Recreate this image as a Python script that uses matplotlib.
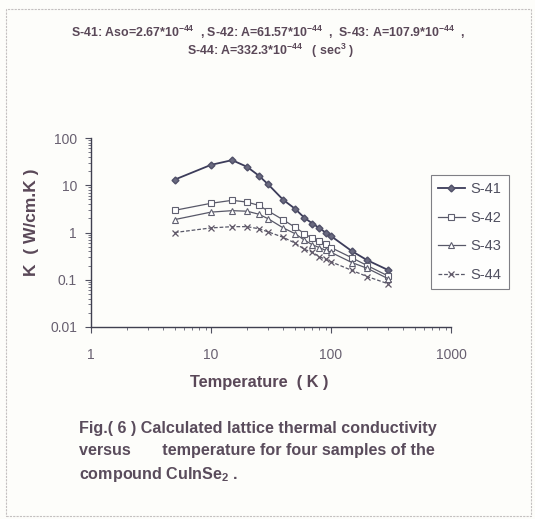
import matplotlib
matplotlib.use("Agg")
import matplotlib.pyplot as plt
from matplotlib.ticker import LogLocator, NullFormatter, FixedLocator, FixedFormatter
from matplotlib.patches import Rectangle

# ---- data ----
temperature = [5, 10, 15, 20, 25, 30, 40, 50, 60, 70, 80, 90, 100, 150, 200, 300]
s41 = [13.2, 27, 34, 24.5, 16, 10.4, 4.9, 3.2, 2.05, 1.55, 1.24, 1.0, 0.84, 0.40, 0.26, 0.16]
s42 = [2.95, 4.15, 4.8, 4.4, 3.75, 2.85, 1.85, 1.3, 0.95, 0.75, 0.67, 0.57, 0.48, 0.29, 0.20, 0.12]
s43 = [1.88, 2.7, 2.9, 2.82, 2.44, 1.95, 1.25, 0.95, 0.69, 0.55, 0.48, 0.42, 0.38, 0.23, 0.175, 0.105]
s44 = [1.0, 1.25, 1.33, 1.33, 1.2, 1.03, 0.79, 0.6, 0.44, 0.38, 0.31, 0.27, 0.24, 0.157, 0.117, 0.082]
series_names = ["S-41", "S-42", "S-43", "S-44"]
x_ticks = [1, 10, 100, 1000]
x_ticklabels = ["1", "10", "100", "1000"]
y_ticks = [0.01, 0.1, 1, 10, 100]
y_ticklabels = ["0.01", "0.1", "1", "10", "100"]

plt.rcParams['font.family'] = ['Liberation Sans', 'DejaVu Sans']
plt.rcParams['mathtext.default'] = 'regular'

W, H = 535, 519
fig = plt.figure(figsize=(W / 100, H / 100), dpi=100)
fig.patch.set_facecolor('#fdfdfa')

# outer faint frame
fig.add_artist(Rectangle((6 / W, 0.005), (W - 10) / W, 1 - 0.005 - 9 / H,
                         transform=fig.transFigure, fill=False,
                         edgecolor='#c4c0c0', lw=0.8, ls=(0, (2, 1))))

txtc = '#5a4858'
ax = fig.add_axes([91 / W, 1 - 327 / H, (451 - 91) / W, (327 - 138) / H])
ax.set_facecolor('none')
ax.set_xscale('log')
ax.set_yscale('log')
ax.set_xlim(1, 1000)
ax.set_ylim(0.01, 100)

ax.plot(temperature, s41, color='#3c3c5a', lw=1.3, marker='D', ms=3.5,
        mfc='#6a6a80', mec='#505068', label=series_names[0])
ax.plot(temperature, s42, color='#585868', lw=0.9, marker='s', ms=4.5,
        mfc='white', mec='#606070', mew=0.8, label=series_names[1])
ax.plot(temperature, s43, color='#585868', lw=0.9, marker='^', ms=4.5,
        mfc='white', mec='#606070', mew=0.8, label=series_names[2])
ax.plot(temperature, s44, color='#585868', lw=0.9, ls=(0, (3, 1.5)), marker='x', ms=5,
        mec='#605868', mew=0.9, label=series_names[3])

for s in ['top', 'right']:
    ax.spines[s].set_visible(False)
for s in ['left', 'bottom']:
    ax.spines[s].set_color('#404050')
    ax.spines[s].set_linewidth(1.0)

ax.xaxis.set_major_locator(FixedLocator(x_ticks))
ax.xaxis.set_major_formatter(FixedFormatter(x_ticklabels))
ax.yaxis.set_major_locator(FixedLocator(y_ticks))
ax.yaxis.set_major_formatter(FixedFormatter(y_ticklabels))
ax.xaxis.set_minor_locator(LogLocator(base=10, subs=range(2, 10)))
ax.yaxis.set_minor_locator(LogLocator(base=10, subs=range(2, 10)))
ax.xaxis.set_minor_formatter(NullFormatter())
ax.yaxis.set_minor_formatter(NullFormatter())
ax.tick_params(which='major', length=4, width=0.8, color='#505060',
               labelsize=10, labelcolor='#686070', pad=6)
ax.tick_params(which='minor', length=2.5, width=0.6, color='#606070')
ax.tick_params(axis='x', which='major', pad=11)

ax.set_xlabel('Temperature  ( K )', fontsize=11.8, fontweight='bold', color=txtc)
ax.xaxis.set_label_coords((259 - 91) / 360, -(383 - 327) / 189)
ax.xaxis.label.set_va('center')
ax.set_ylabel('K  ( W/cm.K )', fontsize=12.5, fontweight='bold', color=txtc)
ax.yaxis.set_label_coords((31 - 91) / 360, (327 - 222) / 189)
ax.yaxis.label.set_va('center')

leg = fig.legend(loc='upper left', bbox_to_anchor=(431 / W, 1 - 175 / H),
                 bbox_transform=fig.transFigure, frameon=True, fancybox=False,
                 fontsize=10.5, handlelength=1.8, handletextpad=0.4,
                 labelspacing=1.0, borderpad=0.5, borderaxespad=0)
leg.get_frame().set_edgecolor('#606068')
leg.get_frame().set_linewidth(0.8)
for t in leg.get_texts():
    t.set_color('#505060')

fig.text(268 / W, 1 - 32 / H,
         r'S-41: Aso=2.67*10$^{-44}$  , S-42: A=61.57*10$^{-44}$  ,  S-43: A=107.9*10$^{-44}$  ,',
         ha='center', va='center', fontsize=8.9, fontweight='bold', color=txtc)
fig.text(271 / W, 1 - 51 / H,
         r'S-44: A=332.3*10$^{-44}$   ( sec$^{3}$ )',
         ha='center', va='center', fontsize=8.9, fontweight='bold', color=txtc)

cap = [r'Fig.( 6 ) Calculated lattice thermal conductivity',
       r'versus       temperature for four samples of the',
       r'compound CuInSe$_{2}$ .']
for i, line in enumerate(cap):
    fig.text(79 / W, 1 - (428 + 23 * i) / H, line, ha='left', va='center',
             fontsize=11.6, fontweight='bold', color='#5a4c5c')

fig.savefig('out.png', dpi=100, facecolor=fig.get_facecolor())
